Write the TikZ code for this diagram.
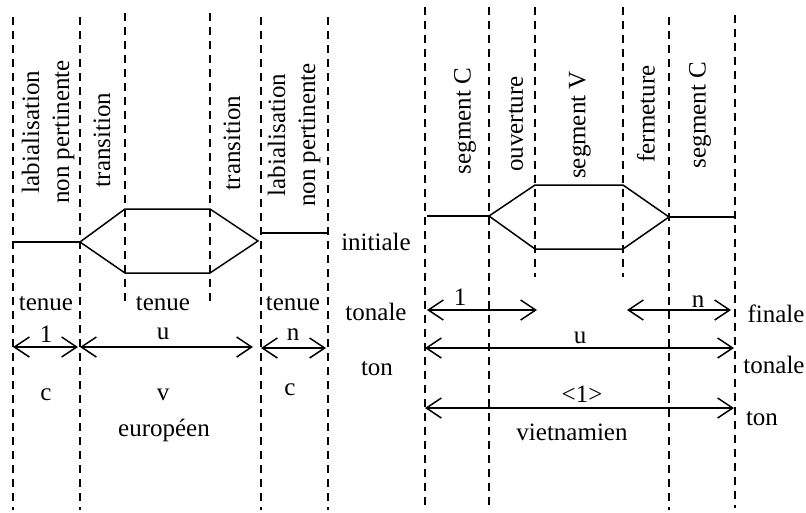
\documentclass[tikz,border=0pt]{standalone}
\usepackage{fontspec}
\setmainfont{Liberation Serif}
\usetikzlibrary{arrows.meta}
\begin{document}
\begin{tikzpicture}[x=1pt,y=-1pt,
  every node/.style={font=\fontsize{25}{30}\selectfont, inner sep=0pt},
  guide/.style={dashed, line width=1.2pt, dash pattern=on 8pt off 6pt},
  contour/.style={line width=1.5pt, line join=miter},
  span/.style={line width=1.5pt, {Straight Barb[length=15pt,width=20pt,line width=1.5pt]}-{Straight Barb[length=15pt,width=20pt,line width=1.5pt]}},
  vlab/.style={rotate=90, align=center},
  lab/.style={anchor=base}]
\useasboundingbox (0,0) rectangle (806,512);
% ---------- left: european ----------
\draw[guide] (13,17) -- (13,510);
\draw[guide] (80,17) -- (80,510);
\draw[guide] (125,13) -- (125,305);
\draw[guide] (210,13) -- (210,305);
\draw[guide] (261,17) -- (261,510);
\draw[guide] (328,17) -- (328,510);

\coordinate (la) at (13,242);
\coordinate (lb) at (80,242);
\coordinate (lc) at (125,209);
\coordinate (ld) at (210,209);
\coordinate (le) at (258,241);
\coordinate (lf) at (210,273);
\coordinate (lg) at (125,273);
\draw[contour] (la) -- (lb);
\draw[contour] (lb) -- (lc) -- (ld) -- (le) -- (lf) -- (lg) -- cycle;
\coordinate (lh) at (261,233);
\coordinate (li) at (327,233);
\draw[contour] (lh) -- (li);

\node[vlab] (lab1) at (48,132) {labialisation\\non pertinente};
\node[vlab] (tr1) at (102,140) {transition};
\node[vlab] (tr2) at (232,143) {transition};
\node[vlab] (lab2) at (294,135) {labialisation\\non pertinente};

\node[lab] (te1) at (46,310) {tenue};
\node[lab] (te2) at (163,310) {tenue};
\node[lab] (te3) at (293,310) {tenue};

\coordinate (a1s) at (13,347);
\coordinate (a1e) at (78,347);
\coordinate (a2s) at (80,347);
\coordinate (a2e) at (253,347);
\coordinate (a3s) at (261,348);
\coordinate (a3e) at (326,348);
\draw[span] (a1s) -- (a1e);
\draw[span] (a2s) -- (a2e);
\draw[span] (a3s) -- (a3e);
\node[lab] (n1) at (46,342) {1};
\node[lab] (nu) at (163,339) {u};
\node[lab] (nn) at (293,340) {n};

\node[lab] (c1) at (46,400) {c};
\node[lab] (v1) at (163,400) {v};
\node[lab] (c2) at (290,395) {c};
\node[lab] (eur) at (164,436) {européen};

% ---------- middle labels ----------
\node[lab] (ini) at (376,250) {initiale};
\node[lab] (ton1) at (376,320) {tonale};
\node[lab] (ton2) at (377,375) {ton};

% ---------- right: vietnamese ----------
\draw[guide] (425,7) -- (425,510);
\draw[guide] (489,7) -- (489,510);
\draw[guide] (535,7) -- (535,277);
\draw[guide] (623,7) -- (623,277);
\draw[guide] (669,17) -- (669,510);
\draw[guide] (735,15) -- (735,508);

\coordinate (ra) at (427,216);
\coordinate (rb) at (489,216);
\coordinate (rc) at (535,185);
\coordinate (rd) at (623,185);
\coordinate (re) at (669,217);
\coordinate (rf) at (623,249);
\coordinate (rg) at (535,249);
\coordinate (rh) at (735,217);
\draw[contour] (ra) -- (rb);
\draw[contour] (rb) -- (rc) -- (rd) -- (re) -- (rf) -- (rg) -- cycle;
\draw[contour] (re) -- (rh);

\node[vlab] (sc1) at (465,121) {segment C};
\node[vlab] (ouv) at (516,124) {ouverture};
\node[vlab] (sv) at (580,125) {segment V};
\node[vlab] (fer) at (646,114) {fermeture};
\node[vlab] (sc2) at (700,115) {segment C};

\coordinate (b1s) at (427,310);
\coordinate (b1e) at (537,310);
\coordinate (b2s) at (627,310);
\coordinate (b2e) at (731,310);
\coordinate (b3s) at (425,348);
\coordinate (b3e) at (734,348);
\coordinate (b4s) at (425,408);
\coordinate (b4e) at (734,408);
\draw[span] (b1s) -- (b1e);
\draw[span] (b2s) -- (b2e);
\draw[span] (b3s) -- (b3e);
\draw[span] (b4s) -- (b4e);
\node[lab] (m1) at (460,305) {1};
\node[lab] (mn) at (698,307) {n};
\node[lab] (mu) at (580,343) {u};
\node[lab] (m1b) at (582,402) {<1>};
\node[lab] (vie) at (572,440) {vietnamien};

\node[lab] (fin) at (776,322) {finale};
\node[lab] (ton3) at (774,373) {tonale};
\node[lab] (ton4) at (762,425) {ton};
\end{tikzpicture}
\end{document}
